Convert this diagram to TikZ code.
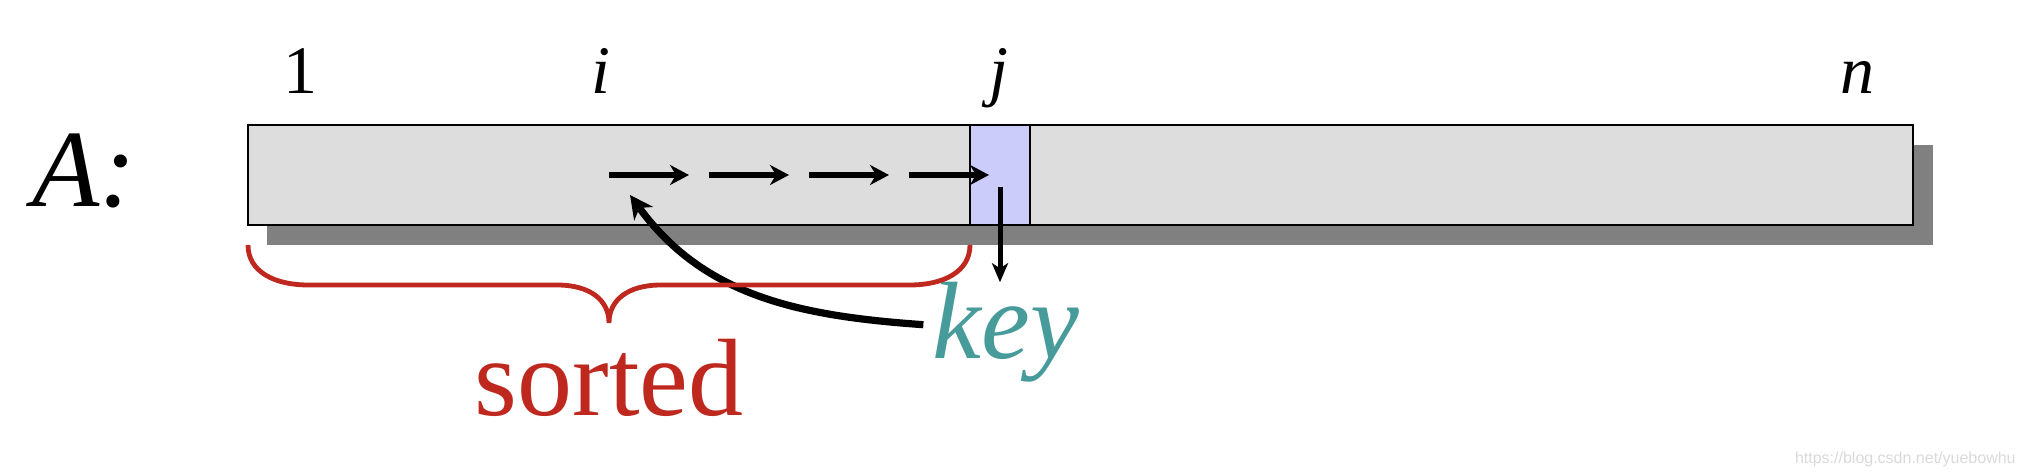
\documentclass[tikz,border=0pt]{standalone}
\usepackage{fontspec}
\setmainfont{Liberation Serif}
\setsansfont{Liberation Sans}
\usetikzlibrary{arrows.meta,calc,positioning}
\definecolor{arraygray}{RGB}{221,221,221}
\definecolor{shadowgray}{RGB}{128,128,128}
\definecolor{cellblue}{RGB}{204,204,250}
\definecolor{sortred}{RGB}{190,40,30}
\definecolor{keyteal}{RGB}{72,155,155}
\tikzstyle{arraybox} = [rectangle, draw=black, line width=1.2pt, fill=arraygray, inner sep=0pt, outer sep=0pt, minimum height=50pt]
\tikzstyle{keycell} = [arraybox, fill=cellblue, minimum width=30pt]
\tikzstyle{index} = [inner sep=0pt, anchor=base, font=\fontsize{34}{36}\selectfont]
\tikzset{
  bigtext/.style={
    inner sep=0pt,
    anchor=base,
    font=\fontsize{55}{60}\selectfont % same size for A:, key and sorted
  }
}
\tikzstyle{arrow} = [line width=3pt,-{Stealth[length=9.5pt,width=10pt,inset=3pt]}]

\begin{document}
\begin{tikzpicture}[x=0.5pt, y=-0.5pt]
    \useasboundingbox (0,0) rectangle (2026,474);
    % shadow first, then the array over it
    \fill[shadowgray] (267,145) rectangle (1933,245);
    \node (arr)[arraybox, minimum width=832.5pt] at (1080.5,175) {};
    \node (cellj)[keycell] at (1000,175) {};

    \node (name)[bigtext] at (84,207) {\itshape A:};
    \node (one)[index] at (300,94) {1};
    \node (lbi)[index] at (601,94) {\itshape i};
    \node (lbj)[index] at (999,94) {\itshape j};
    \node (lbn)[index] at (1857,94) {\itshape n};

    \node (key)[bigtext, text=keyteal] at (1006,359) {\itshape key};
    \node (sorted)[bigtext, text=sortred] at (609,416) {sorted};

    \foreach \k in {0,...,3}
        \draw[arrow] (609+100*\k,175) -- ++(80,0);
    \coordinate (ins) at (630,195);
    \draw[line width=2.5pt,-{Stealth[length=9.5pt,width=8pt,inset=2.5pt]}]
        ([yshift=-6pt]cellj.center) -- (cellj.center |- key.north);
    \draw[line width=3.6pt,-{Stealth[length=11.5pt,width=11.5pt,inset=3.5pt]}]
        ([xshift=-4.5pt,yshift=4pt]key.west) to[out=176, in=-54] (ins);

    % the brace under the sorted part
    \draw[sortred, line width=2.4pt] ([yshift=-10pt]arr.south west)
        .. controls (248,272) and (275,285) .. (308,285) -- (557,285)
        .. controls (590,285) and (609,300) .. (609,323)
        .. controls (609,300) and (628,285) .. (661,285) -- (910,285)
        .. controls (943,285) and (970,272) .. ([yshift=-10pt]cellj.south west);

    \node[font=\sffamily\fontsize{8}{9}\selectfont, text=black!15, anchor=base east, inner sep=0pt] (mark) at (2016,464) {https://blog.csdn.net/yuebowhu};
\end{tikzpicture}
\end{document}
